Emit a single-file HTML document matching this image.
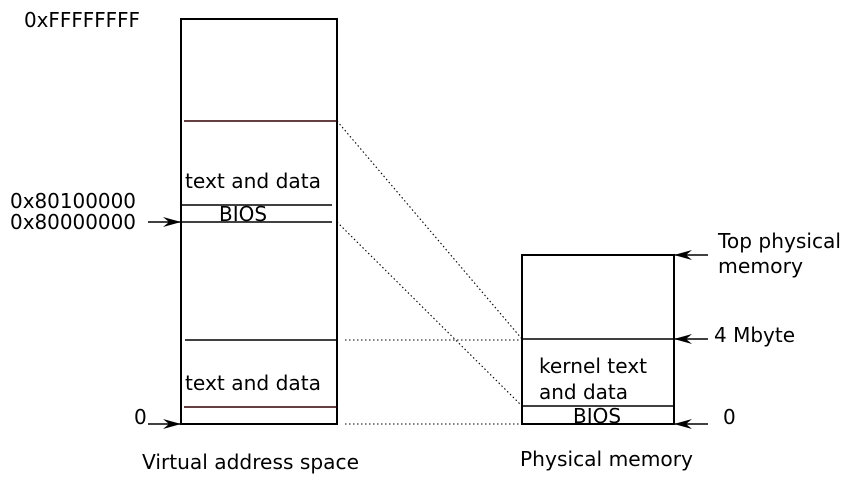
<!DOCTYPE html>
<html><head><meta charset="utf-8"><style>html,body{margin:0;padding:0;background:#fff}svg{display:block}</style></head>
<body>
<svg width="848" height="479" viewBox="0 0 848 479" xmlns="http://www.w3.org/2000/svg" font-family="DejaVu Sans, Liberation Sans, sans-serif" font-size="20" fill="#000">
<defs><marker id="a" markerWidth="18" markerHeight="10" refX="18" refY="5" orient="auto" markerUnits="userSpaceOnUse"><path d="M0,0 L18,5 L0,10 L6,5 Z" fill="#000"/></marker></defs>
<g stroke="#000" stroke-width="2" fill="none">
<rect x="181" y="19" width="156" height="405"/>
<rect x="522" y="255" width="152" height="169"/>
</g>
<g stroke="#000" stroke-width="1.4">
<line x1="184" y1="121" x2="337" y2="121" stroke="#300"/>
<line x1="181" y1="205" x2="332" y2="205"/>
<line x1="181" y1="222" x2="332" y2="222"/>
<line x1="185" y1="340" x2="337" y2="340"/>
<line x1="184" y1="407" x2="337" y2="407" stroke="#300"/>
<line x1="522" y1="339" x2="674" y2="339"/>
<line x1="522" y1="406" x2="674" y2="406"/>
</g>
<g stroke="#000" stroke-width="1.1" stroke-dasharray="1.5,2.5">
<line x1="337" y1="121" x2="522" y2="339"/>
<line x1="337" y1="222" x2="522" y2="406"/>
<line x1="345" y1="340" x2="522" y2="340"/>
<line x1="345" y1="424" x2="522" y2="424"/>
</g>
<g stroke="#000" stroke-width="1.4" marker-end="url(#a)">
<line x1="148" y1="222" x2="181" y2="222"/>
<line x1="148" y1="424" x2="181" y2="424"/>
<line x1="708" y1="255" x2="674" y2="255"/>
<line x1="708" y1="339" x2="674" y2="339"/>
<line x1="708" y1="424" x2="674" y2="424"/>
</g>
<g>
<text x="24" y="27" textLength="116" lengthAdjust="spacingAndGlyphs">0xFFFFFFFF</text>
<text x="10" y="208" textLength="126" lengthAdjust="spacingAndGlyphs">0x80100000</text>
<text x="10" y="229" textLength="126" lengthAdjust="spacingAndGlyphs">0x80000000</text>
<text x="134" y="424">0</text>
<text x="185" y="188" textLength="136" lengthAdjust="spacingAndGlyphs">text and data</text>
<text x="219" y="221" textLength="48" lengthAdjust="spacingAndGlyphs">BIOS</text>
<text x="185" y="390" textLength="136" lengthAdjust="spacingAndGlyphs">text and data</text>
<text x="142" y="469" textLength="217" lengthAdjust="spacingAndGlyphs">Virtual address space</text>
<text x="539" y="373" textLength="108" lengthAdjust="spacingAndGlyphs">kernel text</text>
<text x="539" y="399" textLength="89" lengthAdjust="spacingAndGlyphs">and data</text>
<text x="573" y="423" textLength="48" lengthAdjust="spacingAndGlyphs">BIOS</text>
<text x="520" y="466" textLength="173" lengthAdjust="spacingAndGlyphs">Physical memory</text>
<text x="718" y="248" textLength="123" lengthAdjust="spacingAndGlyphs">Top physical</text>
<text x="718" y="273" textLength="85" lengthAdjust="spacingAndGlyphs">memory</text>
<text x="714" y="342" textLength="81" lengthAdjust="spacingAndGlyphs">4 Mbyte</text>
<text x="723" y="424">0</text>
</g>
</svg>
</body></html>
